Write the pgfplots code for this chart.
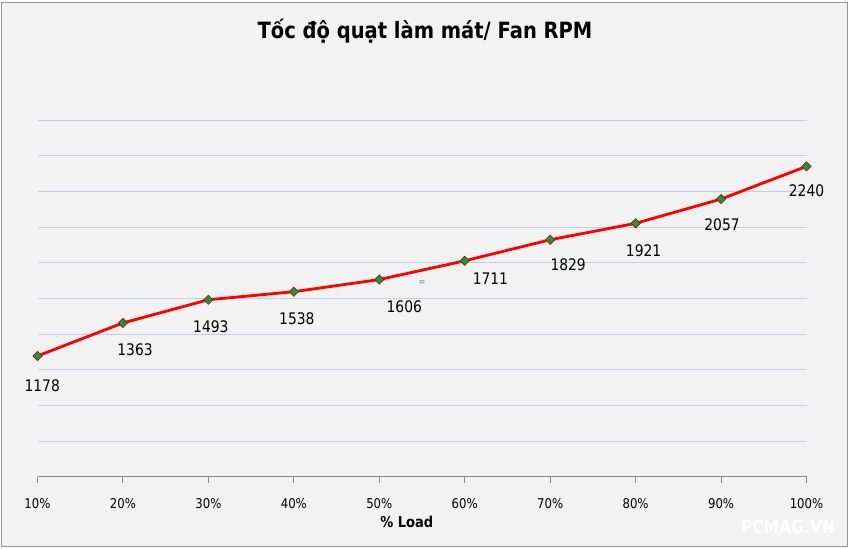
\documentclass[border=0pt]{standalone}
\usepackage{fontspec}
\setmainfont[FakeStretch=0.87]{DejaVu Sans}
\usepackage{pgfplots}
\pgfplotsset{compat=1.18}
\definecolor{bg}{RGB}{242,242,242}
\definecolor{frame}{RGB}{150,150,150}
\definecolor{axgray}{RGB}{134,134,134}
\definecolor{gridblue}{RGB}{192,208,234}
\definecolor{mkgreen}{RGB}{22,150,62}
\pgfplotstableread{
x y dx dy lab
10 1178 4.7 -29.8 1178
20 1363 12.1 -27.2 1363
30 1493 2.5 -26.8 1493
40 1538 3 -27 1538
50 1606 25 -27 1606
60 1711 25.7 -18.3 1711
70 1829 18 -25 1829
80 1921 8 -27 1921
90 2057 1 -26 2057
100 2240 0 -24 2240
}\fandata
\begin{document}
\begin{tikzpicture}[x=1bp,y=1bp]
\useasboundingbox (0,0) rectangle (851,549);
\fill[white] (0,0) rectangle (851,549);
\filldraw[fill=bg,draw=frame,line width=1bp] (1.5,2) rectangle (847.5,546);
\begin{axis}[
  at={(37.5bp,72bp)}, anchor=south west,
  scale only axis, width=769bp, height=357bp,
  xmin=10, xmax=100, ymin=500, ymax=2500,
  clip=false,
  axis x line*=bottom,
  axis y line*=left,
  x axis line style={-, draw=axgray, line width=1bp},
  y axis line style={draw=none},
  xtick={10,20,...,100},
  xticklabels={10\%,20\%,30\%,40\%,50\%,60\%,70\%,80\%,90\%,100\%},
  tick align=outside,
  major tick length=6bp,
  xtick style={draw=axgray, line width=1bp},
  ytick style={draw=none},
  yticklabels={},
  xticklabel style={font=\fontsize{13.5}{15}\selectfont, anchor=base, yshift=-25.7bp},
  ytick={700,900,...,2500},
  ymajorgrids,
  grid style={draw=gridblue, line width=0.8bp},
]
\addplot[draw=red, line width=2.8bp, mark=square*, mark size=3.3bp,
  mark options={rotate=45, fill=mkgreen, draw=red!75!black, line width=0.6bp},
  point meta=explicit symbolic,
  visualization depends on={\thisrow{dx} \as \dx},
  visualization depends on={\thisrow{dy} \as \dy},
  nodes near coords,
  nodes near coords style={anchor=center, xshift=\dx bp, yshift=\dy bp, text=black, font=\fontsize{16}{19}\selectfont},
] table[x=x, y=y, meta=lab] {\fandata};
\end{axis}
\node[anchor=base, font=\bfseries\fontsize{22.5}{26}\selectfont] at (425,510) {Tốc độ quạt làm mát/ Fan RPM};
\node[anchor=base, font=\bfseries\fontsize{15}{18}\selectfont] at (406.7,21) {\% Load};
\node[text=gray, font=\fontsize{10}{12}\selectfont] at (422,266) {=};
\node[anchor=base, text=white, font=\bfseries\fontsize{18}{20}\selectfont] at (788,15) {PCMAG.VN};
\end{tikzpicture}
\end{document}
